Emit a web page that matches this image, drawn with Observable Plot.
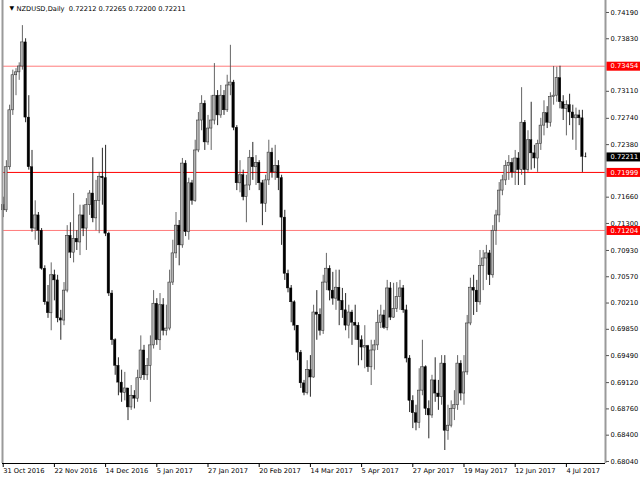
<!DOCTYPE html>
<html><head><meta charset="utf-8">
<script src="https://cdn.jsdelivr.net/npm/d3@7"></script>
<script src="https://cdn.jsdelivr.net/npm/@observablehq/plot@0.6"></script>
<style>
html,body{margin:0;padding:0;background:#fff;}
svg text{white-space:pre;}
</style></head><body><div id="chart"></div>
<script>
const symbol = "NZDUSD,Daily";

const opens = [0.7155,0.7148,0.7207,0.7285,0.7333,0.7337,0.7345,0.7378,0.7275,0.7207,
0.7123,0.7141,0.7120,0.7068,0.7022,0.7007,0.7059,0.7052,0.7000,0.6997,
0.7038,0.7113,0.7090,0.7109,0.7104,0.7141,0.7123,0.7155,0.7171,0.7137,
0.7161,0.7194,0.7192,0.7116,0.7034,0.6970,0.6935,0.6912,0.6898,0.6904,
0.6878,0.6894,0.6890,0.6918,0.6956,0.6922,0.6935,0.6963,0.7020,0.6970,
0.7018,0.6983,0.6986,0.7049,0.7089,0.7127,0.7100,0.7212,0.7118,0.7185,
0.7161,0.7230,0.7271,0.7294,0.7241,0.7260,0.7271,0.7305,0.7278,0.7305,
0.7285,0.7319,0.7323,0.7261,0.7185,0.7196,0.7166,0.7182,0.7220,0.7207,
0.7213,0.7185,0.7157,0.7189,0.7227,0.7200,0.7209,0.7192,0.7138,0.7061,
0.7041,0.7022,0.6990,0.6953,0.6911,0.6898,0.6929,0.6919,0.7008,0.7005,
0.6983,0.7049,0.7068,0.7038,0.7027,0.7042,0.7024,0.7011,0.6990,0.7008,
0.6994,0.6990,0.6970,0.6960,0.6962,0.6933,0.6956,0.6963,0.6994,0.7004,
0.6987,0.7041,0.7001,0.7013,0.7029,0.7041,0.7011,0.6945,0.6887,0.6870,
0.6857,0.6901,0.6933,0.6876,0.6867,0.6915,0.6897,0.6892,0.6938,0.6846,
0.6853,0.6876,0.6881,0.6938,0.6897,0.6926,0.6993,0.7042,0.7038,0.7022,
0.7072,0.7082,0.7089,0.7059,0.7120,0.7141,0.7175,0.7189,0.7209,0.7213,
0.7200,0.7219,0.7203,0.7268,0.7203,0.7244,0.7226,0.7219,0.7239,0.7264,
0.7281,0.7268,0.7303,0.7305,0.7329,0.7296,0.7287,0.7292,0.7282,0.7274,
0.7278,0.7274,0.72212];

const closes = [0.7148,0.7207,0.7285,0.7333,0.7337,0.7345,0.7378,0.7275,0.7207,0.7123,
0.7141,0.7120,0.7068,0.7022,0.7007,0.7059,0.7052,0.7000,0.6997,0.7038,
0.7113,0.7090,0.7109,0.7104,0.7141,0.7123,0.7155,0.7171,0.7137,0.7161,
0.7194,0.7192,0.7116,0.7034,0.6970,0.6935,0.6912,0.6898,0.6904,0.6878,
0.6894,0.6890,0.6918,0.6956,0.6922,0.6935,0.6963,0.7020,0.6970,0.7018,
0.6983,0.6986,0.7049,0.7089,0.7127,0.7100,0.7212,0.7118,0.7185,0.7161,
0.7230,0.7271,0.7294,0.7241,0.7260,0.7271,0.7305,0.7278,0.7305,0.7285,
0.7319,0.7323,0.7261,0.7185,0.7196,0.7166,0.7182,0.7220,0.7207,0.7213,
0.7185,0.7157,0.7189,0.7227,0.7200,0.7209,0.7192,0.7138,0.7061,0.7041,
0.7022,0.6990,0.6953,0.6911,0.6898,0.6929,0.6919,0.7008,0.7005,0.6983,
0.7049,0.7068,0.7038,0.7027,0.7042,0.7024,0.7011,0.6990,0.7008,0.6994,
0.6990,0.6970,0.6960,0.6962,0.6933,0.6956,0.6963,0.6994,0.7004,0.6987,
0.7041,0.7001,0.7013,0.7029,0.7041,0.7011,0.6945,0.6887,0.6870,0.6857,
0.6901,0.6933,0.6876,0.6867,0.6915,0.6897,0.6892,0.6938,0.6846,0.6853,
0.6876,0.6881,0.6938,0.6897,0.6926,0.6993,0.7042,0.7038,0.7022,0.7072,
0.7082,0.7089,0.7059,0.7120,0.7141,0.7175,0.7189,0.7209,0.7213,0.7200,
0.7219,0.7203,0.7268,0.7203,0.7244,0.7226,0.7219,0.7239,0.7264,0.7281,
0.7268,0.7303,0.7305,0.7329,0.7296,0.7287,0.7292,0.7282,0.7274,0.7278,
0.7274,0.72212,0.72211];

const highs = [0.7166,0.7216,0.7292,0.7340,0.7342,0.7350,0.7401,0.7383,0.7305,0.7230,
0.7161,0.7145,0.7123,0.7072,0.7045,0.7076,0.7066,0.7059,0.7011,0.7049,
0.7127,0.7131,0.7171,0.7120,0.7155,0.7155,0.7164,0.7175,0.7220,0.7189,
0.7200,0.7233,0.7237,0.7118,0.7038,0.6972,0.6946,0.6929,0.6926,0.6904,
0.6908,0.6901,0.6929,0.6976,0.6963,0.6945,0.6976,0.7038,0.7027,0.7034,
0.7027,0.7018,0.7066,0.7107,0.7145,0.7134,0.7219,0.7216,0.7192,0.7189,
0.7244,0.7282,0.7305,0.7298,0.7278,0.7305,0.7349,0.7312,0.7319,0.7312,
0.7333,0.7374,0.7326,0.7264,0.7216,0.7203,0.7196,0.7230,0.7241,0.7223,
0.7216,0.7189,0.7196,0.7244,0.7233,0.7237,0.7216,0.7196,0.7148,0.7066,
0.7045,0.7024,0.6990,0.6956,0.6915,0.6942,0.6949,0.7018,0.7038,0.7013,
0.7059,0.7089,0.7072,0.7063,0.7066,0.7066,0.7041,0.7034,0.7018,0.7011,
0.7018,0.6994,0.6976,0.6990,0.6963,0.6970,0.6970,0.7011,0.7018,0.7011,
0.7052,0.7049,0.7048,0.7049,0.7052,0.7045,0.7018,0.6949,0.6894,0.6881,
0.6931,0.6970,0.6935,0.6887,0.6922,0.6946,0.6915,0.6949,0.6949,0.6881,
0.6887,0.6901,0.6949,0.6942,0.6949,0.7004,0.7055,0.7059,0.7052,0.7093,
0.7093,0.7100,0.7093,0.7127,0.7148,0.7186,0.7196,0.7216,0.7223,0.7219,
0.7230,0.7227,0.7316,0.7271,0.7257,0.7296,0.7237,0.7244,0.7274,0.7298,
0.7290,0.7309,0.7345,0.7344,0.73454,0.7305,0.7298,0.7307,0.7292,0.7288,
0.7285,0.7285,0.72265];

const lows = [0.7138,0.7145,0.7203,0.7278,0.7305,0.7326,0.7340,0.7268,0.7203,0.7118,
0.7107,0.7100,0.7066,0.7018,0.7000,0.6983,0.7024,0.6994,0.6970,0.6990,
0.7035,0.7082,0.7076,0.7093,0.7086,0.7112,0.7093,0.7141,0.7131,0.7120,
0.7116,0.7155,0.7112,0.7030,0.6963,0.6922,0.6894,0.6885,0.6887,0.6860,
0.6874,0.6876,0.6885,0.6915,0.6915,0.6915,0.6885,0.6958,0.6963,0.6956,
0.6976,0.6976,0.6983,0.7045,0.7082,0.7072,0.7096,0.7112,0.7107,0.7155,
0.7159,0.7227,0.7257,0.7230,0.7237,0.7230,0.7265,0.7264,0.7274,0.7278,
0.7282,0.7305,0.7257,0.7175,0.7172,0.7161,0.7131,0.7175,0.7189,0.7182,
0.7175,0.7127,0.7145,0.7182,0.7192,0.7189,0.7175,0.7100,0.7052,0.7035,
0.6994,0.6983,0.6942,0.6904,0.6894,0.6895,0.6892,0.6918,0.6970,0.6976,
0.6978,0.7038,0.7024,0.7018,0.7011,0.6990,0.7000,0.6983,0.6972,0.6963,
0.6970,0.6935,0.6942,0.6931,0.6926,0.6908,0.6929,0.6956,0.6986,0.6985,
0.6983,0.6997,0.7000,0.7008,0.7011,0.7007,0.6939,0.6871,0.6849,0.6846,
0.6849,0.6894,0.6867,0.6835,0.6863,0.6885,0.6874,0.6881,0.6819,0.6833,
0.6850,0.6860,0.6874,0.6887,0.6881,0.6922,0.6990,0.7004,0.7008,0.7018,
0.7038,0.7052,0.7045,0.7055,0.7100,0.7131,0.7168,0.7182,0.7189,0.7192,
0.7182,0.7182,0.7196,0.7182,0.7200,0.7203,0.7205,0.7200,0.7230,0.7250,
0.7260,0.7262,0.7292,0.7296,0.7287,0.7271,0.7250,0.7264,0.7244,0.7230,
0.7264,0.71999,0.72200];

const tickBars = [0,16,32,48,64,80,96,112,128,144,160,176];
const tickLabels = ["31 Oct 2016","22 Nov 2016","14 Dec 2016","5 Jan 2017","27 Jan 2017","20 Feb 2017","14 Mar 2017","5 Apr 2017","27 Apr 2017","19 May 2017","12 Jun 2017","4 Jul 2017"];
const priceTicks = [0.74190,0.73830,0.73110,0.72740,0.72380,0.71660,0.71300,0.70930,0.70570,0.70210,0.69850,0.69490,0.69120,0.68760,0.68400,0.68040];
const levelPrices = [0.73454,0.71999,0.71204];

// ---- layout / style ----
const xDomain = [-0.22, 188.22];
const yDomain = [0.68012, 0.74354];
const levelStroke = ["#ff7c7c", "#ff0000", "#ff7c7c"];

const bars = closes.map((c, i) => ({i, open: opens[i], high: highs[i], low: lows[i], close: c}));
const last = bars[bars.length - 1];
const up = bars.filter(d => d.close > d.open);
const down = bars.filter(d => d.close <= d.open);
const f5 = v => v.toFixed(5);
const header = `${symbol}  ${f5(last.open)} ${f5(last.high)} ${f5(last.low)} ${f5(last.close)}`;

const DX = 5;
function boxRender(fill) {
  return (index, scales, values, dims, context, next) => {
    const g = next(index, scales, values, dims, context);
    const x0 = dims.width - dims.marginRight + 1 - DX;
    for (const i of index) {
      const r = document.createElementNS("http://www.w3.org/2000/svg", "rect");
      r.setAttribute("x", x0);
      r.setAttribute("y", values.y[i] - 4.5);
      r.setAttribute("width", dims.marginRight - 1);
      r.setAttribute("height", 9);
      r.setAttribute("fill", fill);
      r.setAttribute("stroke", "none");
      g.insertBefore(r, g.firstChild);
    }
    return g;
  };
}

const chart = Plot.plot({
  width: 640, height: 480,
  marginLeft: 2, marginRight: 35, marginTop: 0, marginBottom: 17,
  style: {fontFamily: "'DejaVu Sans', sans-serif", fontSize: "6.7px", background: "#fff", color: "#000"},
  x: {type: "linear", domain: xDomain},
  y: {domain: yDomain},
  marks: [
    Plot.ruleY(levelPrices, {y: d => d, stroke: (d, i) => levelStroke[i], strokeWidth: 1}),
    Plot.ruleX(up, {x: "i", y1: "low", y2: "high", stroke: "#555", strokeWidth: 0.9}),
    Plot.ruleX(down, {x: "i", y1: "low", y2: "high", stroke: "#111", strokeWidth: 0.9}),
    Plot.rect(up, {x1: d => d.i - 0.38, x2: d => d.i + 0.38, y1: "open", y2: "close", fill: "#b4b4b4", stroke: "#3a3a3a", strokeWidth: 0.6}),
    Plot.rect(down, {x1: d => d.i - 0.38, x2: d => d.i + 0.38, y1: "open", y2: "close", fill: "#000", stroke: "#000", strokeWidth: 0.4}),
    Plot.ruleX([xDomain[0]], {stroke: "#9a9a9a", strokeWidth: 2}),
    Plot.ruleX([xDomain[1]], {stroke: "#9a9a9a", strokeWidth: 2}),
    Plot.ruleY([yDomain[0]], {stroke: "#000", strokeWidth: 1}),
    Plot.axisY(priceTicks, {anchor: "right", tickSize: 3, tickPadding: 2, tickFormat: f5, label: null, stroke: "#555"}),
    Plot.axisX(tickBars, {anchor: "bottom", tickSize: 4, tickPadding: 1, textAnchor: "start", tickFormat: d => tickLabels[tickBars.indexOf(d)], label: null}),
    Plot.text(levelPrices, {y: d => d, text: f5, frameAnchor: "right", textAnchor: "start", dx: DX, fill: "#fff", render: boxRender("#ff0000")}),
    Plot.text([last], {y: "close", text: d => f5(d.close), frameAnchor: "right", textAnchor: "start", dx: DX, fill: "#fff", render: boxRender("#000")}),
    Plot.text(["\u25BC"], {frameAnchor: "top-left", dx: 7, dy: 8, lineAnchor: "middle", fontSize: 6, fill: "#000"}),
    Plot.text([header], {frameAnchor: "top-left", dx: 14, dy: 8, lineAnchor: "middle", textAnchor: "start", fill: "#000"})
  ]
});
document.getElementById("chart").appendChild(chart);
</script>
</body></html>
